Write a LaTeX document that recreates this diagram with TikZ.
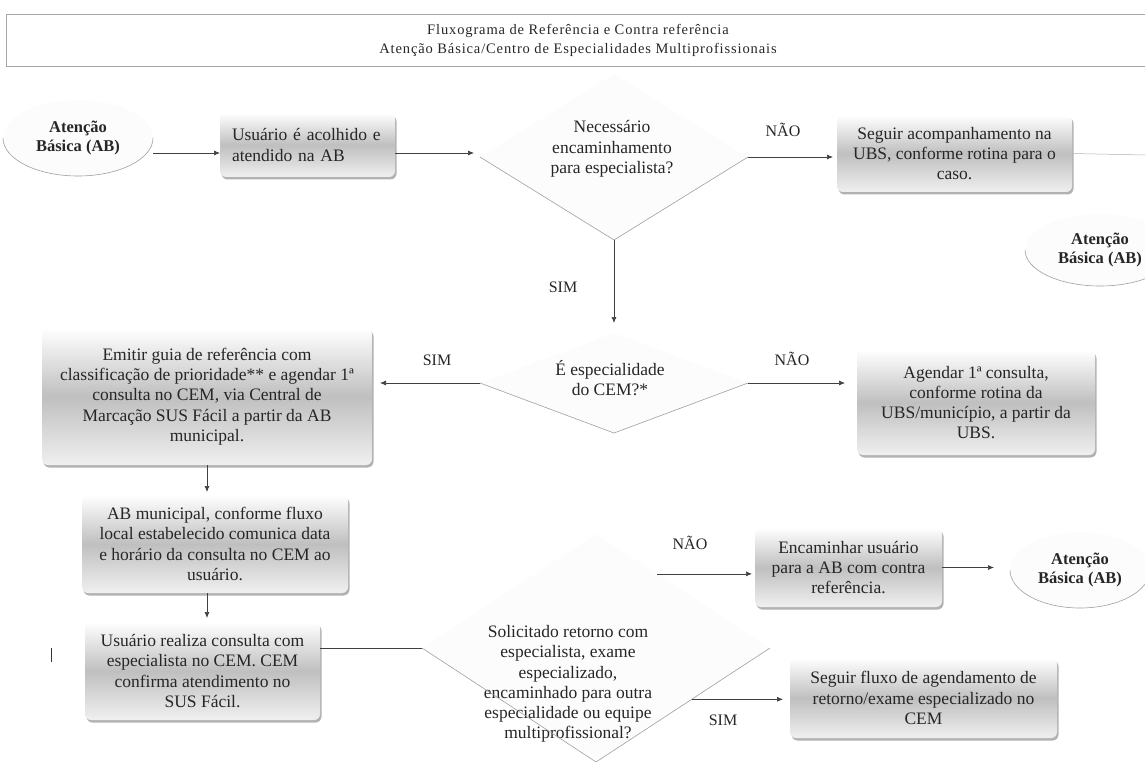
\documentclass[tikz,border=0pt]{standalone}
\usepackage{fontspec}
\setmainfont{Liberation Serif}
\usetikzlibrary{arrows.meta, shapes.geometric, shadows, calc}

\tikzset{
    caixa/.style={rectangle, rounded corners=6pt, top color=white, bottom color=gray!12,
        middle color=gray!50, drop shadow={shadow xshift=1.5pt, shadow yshift=-2.5pt, fill=black!60},
        align=center, text=black!85, font=\fontsize{17.5}{20.3}\selectfont,
        inner sep=0pt, outer sep=0pt},
    oval/.style={ellipse, fill=gray!2, inner sep=0pt, outer sep=0pt, align=center,
        text=black!85, font=\bfseries\fontsize{16.5}{19.5}\selectfont},
    dia/.style={diamond, fill=gray!2, inner sep=0pt, outer sep=0pt},
    pergunta/.style={align=center, text=black!85, font=\fontsize{17.5}{20.3}\selectfont},
    resp/.style={text=black!85, font=\fontsize{16}{18}\selectfont},
    borda/.style={draw=gray!75, line width=0.6pt},
    seta/.style={-{Latex[length=6pt,width=5pt]}, draw=black!75, line width=0.7pt}
}

\begin{document}
\begin{tikzpicture}[x=1pt, y=-1pt]
    \useasboundingbox (0,0) rectangle (1145,762);
    \clip (0,0) rectangle (1145,762);

    % --- Cabecalho ---
    \node[draw=gray!70, line width=0.7pt, minimum width=1144, minimum height=52, inner sep=0pt,
          align=center, text=black!85, font=\addfontfeature{LetterSpace=6}\fontsize{14.5}{19}\selectfont]
        (cabecalho) at (578,40) {Fluxograma de Referência e Contra referência\\
        Atenção Básica/Centro de Especialidades Multiprofissionais};

    % --- Linha de cima ---
    \node[oval, minimum width=150, minimum height=76] (abIn) at (78,138) {Atenção\\Básica (AB)};
    \node[caixa, minimum width=175, minimum height=64, align=left, text width=151, inner xsep=12pt]
        (acolhe) at (307.5,145) {Usuário é acolhido e\\atendido na AB};
    \node[dia, minimum width=268, minimum height=166] (precisa) at (614,157) {};
    \node[pergunta] (precisaTxt) at (612,149) {Necessário\\encaminhamento\\para especialista?};
    \node[caixa, minimum width=235, minimum height=77] (segueUBS) at (954.5,153.5)
        {Seguir acompanhamento na\\UBS, conforme rotina para o\\caso.};
    \coordinate (bordaDir) at (1145,155);
    \node[oval, minimum width=150, minimum height=72] (abOut1) at (1100,250) {Atenção\\Básica (AB)};

    % --- Linha do meio ---
    \node[caixa, minimum width=330, minimum height=137] (emitir) at (207,396.5)
        {Emitir guia de referência com\\classificação de prioridade** e agendar 1ª\\consulta no CEM, via Central de\\Marcação SUS Fácil a partir da AB\\municipal.};
    \node[dia, minimum width=268, minimum height=100] (cem) at (614,383) {};
    \node[pergunta] (cemTxt) at (610,378) {É especialidade\\do CEM?*};
    \node[caixa, minimum width=238, minimum height=105] (agendar) at (976,402.5)
        {Agendar 1ª consulta,\\conforme rotina da\\UBS/município, a partir da\\UBS.};

    % --- Coluna da esquerda ---
    \node[caixa, minimum width=266, minimum height=98] (comunica) at (215,544)
        {AB municipal, conforme fluxo\\local estabelecido comunica data\\e horário da consulta no CEM ao\\usuário.};
    \node[caixa, minimum width=235, minimum height=98] (consulta) at (202.5,671)
        {Usuário realiza consulta com\\especialista no CEM. CEM\\confirma atendimento no\\SUS Fácil.};

    % --- Retorno ---
    \node[dia, minimum width=348, minimum height=228] (retorno) at (596,648) {};
    \node[pergunta] (retornoTxt) at (568,684) {Solicitado retorno com\\especialista, exame\\especializado,\\encaminhado para outra\\especialidade ou equipe\\multiprofissional?};
    \node[caixa, minimum width=187, minimum height=79] (contraRef) at (848.5,567.5)
        {Encaminhar usuário\\para a AB com contra\\referência.};
    \node[oval, minimum width=140, minimum height=76] (abOut2) at (1080,570) {Atenção\\Básica (AB)};
    \node[caixa, minimum width=267, minimum height=80] (fluxoCEM) at (923.5,698)
        {Seguir fluxo de agendamento de\\retorno/exame especializado no\\CEM};

    % --- Contornos visiveis ---
    \draw[borda] (abIn.west) arc[start angle=180, end angle=0, x radius=75, y radius=38];
    \draw[borda] (abOut1.west) arc[start angle=180, end angle=0, x radius=75, y radius=36];
    \draw[borda] (abOut2.west) arc[start angle=180, end angle=0, x radius=70, y radius=38];
    \draw[borda] (precisa.west) -- (precisa.south) -- (precisa.east);
    \draw[borda] (cem.west) -- (cem.south) -- (cem.east);
    \draw[borda] (retorno.west) -- (retorno.south) -- (retorno.east);

    % --- Setas ---
    \draw[seta] ([yshift=-8pt]acolhe.west -| abIn.east) -- ([yshift=-8pt]acolhe.west);
    \draw[seta, shorten >=6pt] ([yshift=-8pt]acolhe.east) -- ([yshift=-8pt]acolhe.east -| precisa.west);
    \draw[seta, shorten >=4pt] (precisa.east) -- (precisa.east -| segueUBS.west);
    \draw[draw=gray!60, line width=0.5pt] (segueUBS.east) -- (bordaDir);
    \draw[seta, shorten >=10pt] (precisa.south) -- (cem.north);
    \draw[seta, shorten >=8pt] (cem.west) -- (cem.west -| emitir.east);
    \draw[seta, shorten >=12pt] (cem.east) -- (cem.east -| agendar.west);
    \draw[seta, shorten >=3pt] (emitir.south) -- (emitir.south |- comunica.north);
    \draw[seta, shorten >=4pt] (emitir.south |- comunica.south) -- (emitir.south |- consulta.north);
    \draw[draw=black!75, line width=0.7pt] (consulta.east |- retorno.west) -- (retorno.west);
    \coordinate (rNao) at ($(retorno.north)!0.35!(retorno.east)$);
    \coordinate (rSim) at ($(retorno.east)!0.45!(retorno.south)$);
    \draw[seta, shorten >=3pt] (rNao) -- (rNao -| contraRef.west);
    \draw[seta, shorten >=7pt] (rSim) -- (rSim -| fluxoCEM.west);
    \draw[seta, shorten >=16pt] (contraRef.east) -- (contraRef.east -| abOut2.west);

    % --- Respostas ---
    \node[resp] (nao1) at (783,130) {NÃO};
    \node[resp] (sim1) at (563,287) {SIM};
    \node[resp] (sim2) at (437,360) {SIM};
    \node[resp] (nao2) at (792,359) {NÃO};
    \node[resp] (nao3) at (690,543) {NÃO};
    \node[resp] (sim3) at (723,720) {SIM};

    \draw[black!80, line width=1pt] (51,648) -- (51,662);
\end{tikzpicture}
\end{document}
